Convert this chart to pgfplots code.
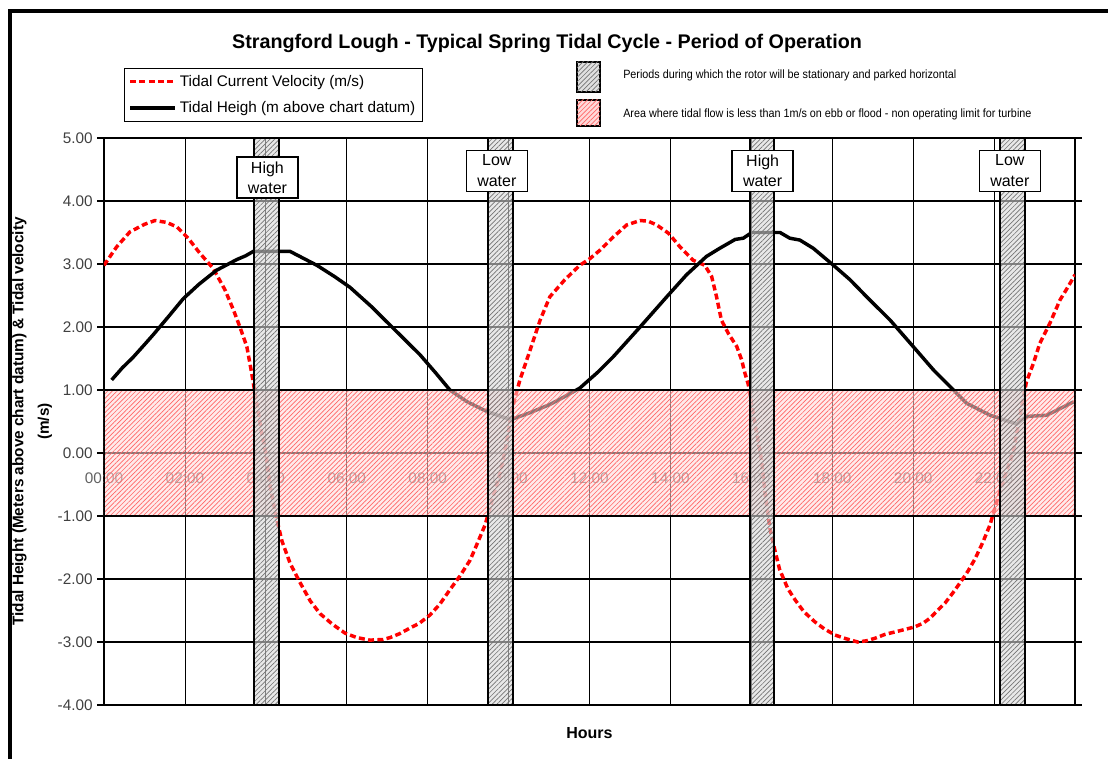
\documentclass[border=0pt]{standalone}
\usepackage{pgfplots}
\pgfplotsset{compat=1.18}
\usetikzlibrary{patterns.meta}
\usepackage{fontspec}
\setmainfont{Liberation Sans}
\newfontfamily\narrowfont[FakeStretch=0.9]{Liberation Sans}

\definecolor{tidered}{RGB}{255,0,0}
\definecolor{pinkfill}{RGB}{255,218,218}

\tikzset{
  redhatch/.style={pattern={Lines[angle=45,distance=2.5pt,line width=0.5pt]}, pattern color=red!60},
  greyhatch/.style={pattern={Lines[angle=45,distance=2.5pt,line width=0.5pt]}, pattern color=black!55},
}

\begin{document}
\begin{tikzpicture}
\useasboundingbox (0,0) rectangle (831pt,568.5pt);

% page furniture in pixel units (origin top left)
\begin{scope}[shift={(0,568.5pt)},x=0.75pt,y=-0.75pt]
  \draw[line width=2.3pt] (10,770) -- (10,11) -- (1115,11);
  \node[font=\bfseries\fontsize{14.8}{17}\selectfont] at (547,43)
    {Strangford Lough - Typical Spring Tidal Cycle - Period of Operation};
  \filldraw[line width=1.5pt, fill=black!12, postaction={greyhatch}] (577,62) rectangle (600,92);
  \filldraw[line width=1.5pt, fill=pinkfill, postaction={redhatch}] (577,100) rectangle (600,126);
  \node[anchor=west, inner sep=0pt, font=\narrowfont\fontsize{9}{10}\selectfont] at (623,75)
    {Periods during which the rotor will be stationary and parked horizontal};
  \node[anchor=west, inner sep=0pt, font=\narrowfont\fontsize{9}{10}\selectfont] at (623,114)
    {Area where tidal flow is less than 1m/s on ebb or flood - non operating limit for turbine};
\end{scope}

\begin{axis}[
  at={(78pt,39.75pt)}, anchor=south west,
  scale only axis, width=728.25pt, height=425.25pt,
  xmin=0, xmax=24, ymin=-4, ymax=5,
  xtick={0,2,...,22},
  xticklabels={00:00,02:00,04:00,06:00,08:00,10:00,12:00,14:00,16:00,18:00,20:00,22:00},
  ytick={-4,-3,-2,-1,1,2,3,4,5},
  extra y ticks={0}, extra y tick labels={0.00},
  extra y tick style={grid style={line width=0.5pt, black!70}},
  xmajorgrids, ymajorgrids,
  x grid style={line width=0.6pt, black},
  y grid style={line width=1.4pt, black},
  axis line style={line width=1.6pt},
  tick align=outside, major tick length=5pt,
  xtick style={draw=none},
  ytick style={line width=0.8pt, black},
  /pgf/number format/assume math mode=true,
  yticklabel style={/pgf/number format/fixed, /pgf/number format/fixed zerofill,
    /pgf/number format/precision=2, font=\fontsize{11.5}{13}\selectfont, text=black!75},
  xticklabel style={font=\fontsize{11.5}{13}\selectfont, text=black!62, yshift=182.5pt},
  xlabel={Hours},
  ylabel={Tidal Height (Meters above chart datum) \& Tidal velocity\\(m/s)},
  every axis x label/.style={at={(axis description cs:0.5,-0.049)}, anchor=center,
    font=\bfseries\fontsize{12}{13}\selectfont},
  every axis y label/.style={at={(axis description cs:-0.074,0.5)}, rotate=90, anchor=center,
    align=center, font=\bfseries\fontsize{11.5}{19}\selectfont},
  legend style={at={(axis description cs:0.0206,1.1235)}, anchor=north west,
    draw=black, line width=0.6pt, font=\fontsize{11.5}{13}\selectfont,
    row sep=6pt, inner sep=3pt, cells={anchor=west}},
  legend image code/.code={\draw[#1] (0pt,0pt) -- (34pt,0pt);},
]

\addplot[color=tidered, line width=2.6pt, dash pattern=on 4.5pt off 2.5pt] coordinates {
 (0,2.98) (0.31,3.27) (0.64,3.51) (1.0,3.63) (1.26,3.69) (1.55,3.66) (1.8,3.59)
 (2.08,3.41) (2.37,3.17) (2.7,2.93) (2.99,2.59) (3.2,2.27) (3.36,2.0) (3.53,1.69)
 (3.65,1.27) (3.72,1.0) (3.8,0.7) (3.9,0.3) (4.0,0) (4.1,-0.5) (4.25,-1.0) (4.4,-1.4)
 (4.6,-1.75) (4.84,-2.05) (5.1,-2.35) (5.34,-2.55) (5.65,-2.72) (5.96,-2.86) (6.25,-2.93)
 (6.57,-2.97) (6.9,-2.96) (7.07,-2.93) (7.3,-2.87) (7.56,-2.78) (7.8,-2.7) (8.06,-2.57)
 (8.3,-2.4) (8.55,-2.17) (8.8,-1.95) (9.05,-1.7) (9.25,-1.4) (9.42,-1.14) (9.55,-0.85)
 (9.66,-0.6) (9.8,-0.3) (9.9,0) (10.0,0.35) (10.08,0.68) (10.28,1.16) (10.53,1.63)
 (10.78,2.11) (11.02,2.48) (11.39,2.75) (11.76,2.98) (12.0,3.08) (12.26,3.22) (12.59,3.43)
 (12.92,3.62) (13.25,3.69) (13.45,3.68) (13.66,3.62) (13.95,3.49) (14.24,3.27) (14.56,3.06)
 (14.85,2.98) (15.02,2.8) (15.14,2.48) (15.26,2.11) (15.43,1.9) (15.64,1.69) (15.76,1.48)
 (15.84,1.27) (15.92,1.1) (16.0,0.8) (16.13,0.32) (16.25,-0.1) (16.35,-0.7) (16.46,-1.2)
 (16.58,-1.54) (16.7,-1.85) (16.9,-2.15) (17.08,-2.33) (17.3,-2.52) (17.57,-2.68) (17.8,-2.79)
 (18.07,-2.89) (18.35,-2.95) (18.63,-3.0) (18.85,-2.98) (19.06,-2.94) (19.3,-2.88) (19.55,-2.84)
 (19.8,-2.8) (20.04,-2.76) (20.25,-2.7) (20.42,-2.62) (20.6,-2.5) (20.79,-2.38) (20.97,-2.23)
 (21.16,-2.06) (21.35,-1.88) (21.53,-1.68) (21.72,-1.42) (21.9,-1.14) (22.03,-0.85) (22.15,-0.6)
 (22.3,-0.3) (22.47,0.0) (22.64,0.6) (22.8,1.13) (22.97,1.42) (23.13,1.74) (23.38,2.06)
 (23.63,2.43) (23.83,2.64) (24,2.83)
};
\addlegendentry{Tidal Current Velocity (m/s)}

\addplot[black, line width=2.6pt] coordinates {
 (0.19,1.16) (0.45,1.35) (0.72,1.52) (1.0,1.72) (1.22,1.88) (1.6,2.17) (1.96,2.45)
 (2.35,2.68) (2.78,2.9) (3.28,3.07) (3.5,3.13) (3.69,3.2) (4.6,3.2) (4.9,3.1) (5.26,2.98)
 (5.7,2.8) (6.08,2.63) (6.6,2.33) (7.15,1.98) (7.81,1.56) (8.2,1.27) (8.55,1.0) (8.96,0.82)
 (9.46,0.66) (9.95,0.55) (10.1,0.54) (10.53,0.64) (11.02,0.77) (11.4,0.9) (11.76,1.03)
 (12.2,1.28) (12.59,1.53) (13.25,2.0) (13.91,2.48) (14.4,2.83) (14.89,3.12) (15.22,3.25)
 (15.6,3.39) (15.8,3.41) (16.01,3.5) (16.71,3.5) (16.95,3.41) (17.2,3.38) (17.53,3.25)
 (18.03,2.98) (18.44,2.75) (18.85,2.48) (19.43,2.11) (20.0,1.69) (20.5,1.32) (20.95,1.03)
 (21.32,0.79) (21.9,0.6) (22.23,0.53) (22.56,0.46) (22.8,0.58) (23.3,0.6) (23.96,0.81)
};
\addlegendentry{Tidal Heigh (m above chart datum)}

% band where flow < 1 m/s
\addplot[forget plot, draw=black, line width=1.8pt, fill=pinkfill, fill opacity=0.55,
  postaction={redhatch}] coordinates {(0,-1) (24,-1) (24,1) (0,1) (0,-1)};

% rotor parked periods
\addplot[forget plot, draw=black, line width=1.5pt, fill=black!15, fill opacity=0.6,
  postaction={greyhatch}] coordinates {(3.71,-4) (4.32,-4) (4.32,5) (3.71,5) (3.71,-4)};
\addplot[forget plot, draw=black, line width=1.5pt, fill=black!15, fill opacity=0.6,
  postaction={greyhatch}] coordinates {(9.5,-4) (10.1,-4) (10.1,5) (9.5,5) (9.5,-4)};
\addplot[forget plot, draw=black, line width=1.5pt, fill=black!15, fill opacity=0.6,
  postaction={greyhatch}] coordinates {(15.97,-4) (16.56,-4) (16.56,5) (15.97,5) (15.97,-4)};
\addplot[forget plot, draw=black, line width=1.5pt, fill=black!15, fill opacity=0.6,
  postaction={greyhatch}] coordinates {(22.14,-4) (22.76,-4) (22.76,5) (22.14,5) (22.14,-4)};

\tikzset{waterbox/.style={draw=black, line width=1.1pt, fill=white, align=center,
  minimum width=45.75pt, minimum height=30.75pt, inner sep=1pt,
  font=\fontsize{12}{15.5}\selectfont}}
\node[waterbox] at (axis cs:4.04,4.37) {High\\water};
\node[waterbox] at (axis cs:9.71,4.48) {Low\\water};
\node[waterbox] at (axis cs:16.28,4.48) {High\\water};
\node[waterbox] at (axis cs:22.39,4.48) {Low\\water};

\end{axis}
\end{tikzpicture}
\end{document}
